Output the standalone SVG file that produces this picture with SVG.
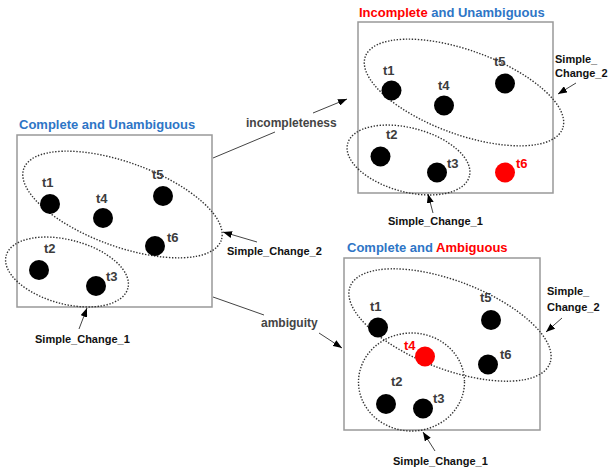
<svg xmlns="http://www.w3.org/2000/svg" width="608" height="473" viewBox="0 0 608 473">
<defs>
<marker id="ah" markerWidth="9" markerHeight="7" refX="9" refY="3.5" orient="auto" markerUnits="userSpaceOnUse">
<path d="M0,0 L9,3.5 L0,7 Z" fill="#000"/>
</marker>
<style>
.box{fill:none;stroke:#999;stroke-width:1.5}
.ell{fill:none;stroke:#333;stroke-width:1.4;stroke-dasharray:1.4 1.6}
.dot{fill:#000}
.rdot{fill:#ff0000}
.tl{font-family:"Liberation Sans",Arial,sans-serif;font-weight:bold;font-size:13px;fill:#3c3c3c}
.rtl{font-family:"Liberation Sans",Arial,sans-serif;font-weight:bold;font-size:13px;fill:#ff0000}
.title{font-family:"Liberation Sans",Arial,sans-serif;font-weight:bold;font-size:13px}
.blue{fill:#2e75c6}
.red{fill:#ff0000}
.sc{font-family:"Liberation Sans",Arial,sans-serif;font-weight:bold;font-size:11px;fill:#111}
.cl{font-family:"Liberation Sans",Arial,sans-serif;font-weight:bold;font-size:12px;fill:#444}
.ln{fill:none;stroke:#444;stroke-width:1}
</style>
</defs>
<rect width="608" height="473" fill="#fff"/>

<g id="panel-left">
<text class="title blue" x="19" y="129">Complete and Unambiguous</text>
<rect class="box" x="17" y="135" width="195" height="172"/>
<ellipse class="ell" cx="122.5" cy="204.5" rx="105" ry="42" transform="rotate(20 122.5 204.5)"/>
<ellipse class="ell" cx="67" cy="272" rx="63" ry="32" transform="rotate(15 67 272)"/>
<circle class="dot" cx="50" cy="204" r="10"/><text class="tl" x="42" y="187">t1</text>
<circle class="dot" cx="103" cy="218" r="10"/><text class="tl" x="96" y="203">t4</text>
<circle class="dot" cx="163" cy="196" r="10"/><text class="tl" x="152" y="179">t5</text>
<circle class="dot" cx="155" cy="246" r="10"/><text class="tl" x="167" y="242">t6</text>
<circle class="dot" cx="39" cy="270" r="10"/><text class="tl" x="44" y="253">t2</text>
<circle class="dot" cx="96" cy="286" r="10"/><text class="tl" x="106" y="281">t3</text>
<text class="sc" x="227" y="255">Simple_Change_2</text>
<text class="sc" x="35" y="343">Simple_Change_1</text>
</g>

<g id="panel-incomplete">
<text class="title" x="359" y="17"><tspan class="red">Incomplete</tspan><tspan class="blue"> and Unambiguous</tspan></text>
<rect class="box" x="358" y="22" width="195" height="171"/>
<ellipse class="ell" cx="464" cy="92.5" rx="105" ry="42" transform="rotate(20 464 92.5)"/>
<ellipse class="ell" cx="408.5" cy="160" rx="63" ry="32" transform="rotate(15 408.5 160)"/>
<circle class="dot" cx="391.5" cy="90.5" r="10"/><text class="tl" x="383" y="75">t1</text>
<circle class="dot" cx="444" cy="105.5" r="10"/><text class="tl" x="438" y="90">t4</text>
<circle class="dot" cx="505" cy="83.5" r="10"/><text class="tl" x="494" y="66">t5</text>
<circle class="dot" cx="380.5" cy="156.5" r="10"/><text class="tl" x="386" y="139">t2</text>
<circle class="dot" cx="437" cy="172.5" r="10"/><text class="tl" x="447" y="168">t3</text>
<circle class="rdot" cx="505" cy="172.5" r="10"/><text class="rtl" x="516" y="168">t6</text>
<text class="sc" x="555" y="63">Simple_</text>
<text class="sc" x="555" y="77">Change_2</text>
<text class="sc" x="388" y="225">Simple_Change_1</text>
</g>

<g id="panel-ambiguous">
<text class="title" x="347" y="252"><tspan class="blue">Complete and </tspan><tspan class="red">Ambiguous</tspan></text>
<rect class="box" x="344" y="258" width="196" height="172"/>
<ellipse class="ell" cx="450" cy="325" rx="107" ry="44" transform="rotate(21 450 325)"/>
<ellipse class="ell" cx="411.5" cy="382" rx="53" ry="49"/>
<circle class="dot" cx="378" cy="327.5" r="10"/><text class="tl" x="370" y="311">t1</text>
<circle class="dot" cx="491" cy="320" r="10"/><text class="tl" x="480" y="302">t5</text>
<circle class="rdot" cx="425" cy="356.5" r="10"/><text class="rtl" x="404" y="350">t4</text>
<circle class="dot" cx="488" cy="364.5" r="10"/><text class="tl" x="500" y="359">t6</text>
<circle class="dot" cx="386" cy="404" r="10"/><text class="tl" x="391" y="386">t2</text>
<circle class="dot" cx="423" cy="408.5" r="10"/><text class="tl" x="433" y="403">t3</text>
<text class="sc" x="547" y="295">Simple_</text>
<text class="sc" x="547" y="311">Change_2</text>
<text class="sc" x="393" y="465">Simple_Change_1</text>
</g>

<g id="connectors">
<path class="ln" d="M213,158 L275,132"/>
<path class="ln" d="M313,113 L347,99" marker-end="url(#ah)"/>
<text class="cl" x="246" y="127">incompleteness</text>
<path class="ln" d="M213,297 L264,315"/>
<path class="ln" d="M319,333 L342,348" marker-end="url(#ah)"/>
<text class="cl" x="261" y="327">ambiguity</text>
<path class="ln" d="M257,242 L223,232" marker-end="url(#ah)"/>
<path class="ln" d="M79,329 L87,308" marker-end="url(#ah)"/>
<path class="ln" d="M576,83 L558,94" marker-end="url(#ah)"/>
<path class="ln" d="M433,213 L428,194" marker-end="url(#ah)"/>
<path class="ln" d="M562,318 L546,332" marker-end="url(#ah)"/>
<path class="ln" d="M435,451 L423,432" marker-end="url(#ah)"/>
</g>
</svg>
